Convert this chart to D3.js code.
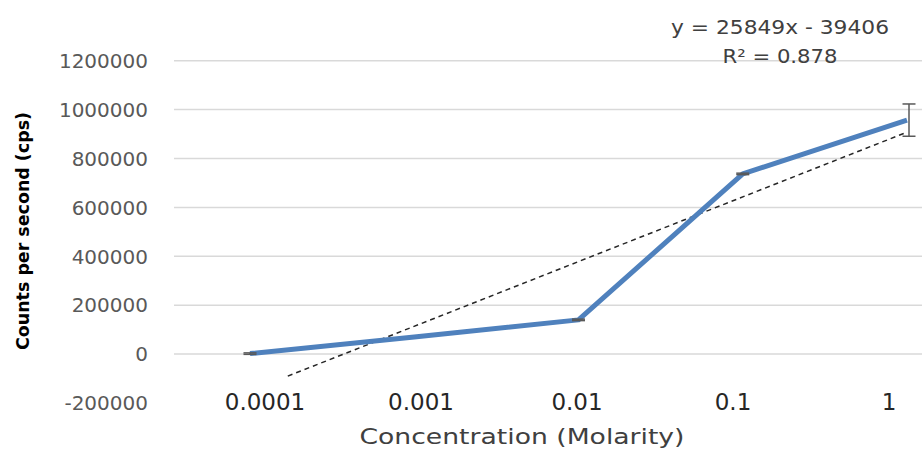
<!DOCTYPE html>
<html>
<head>
<meta charset="utf-8">
<script src="https://cdn.jsdelivr.net/npm/d3@7"></script>
<style>
  body { margin: 0; background: #fff; }
  svg { display: block; }
</style>
</head>
<body>
<svg id="chart"></svg>
<script>
// Data
const concentrations = ["0.0001", "0.001", "0.01", "0.1", "1"];
const counts = [2000, 70000, 140000, 737000, 957000];
const errors = [3000, 0, 3000, 3000, 66000];
const yTicks = [-200000, 0, 200000, 400000, 600000, 800000, 1000000, 1200000];
// dashed linear trend line, start and end (category index, value)
const trendIndex = [0.23, 3.99];
const trendValue = [-90000, 905000];
const equationLines = ["y = 25849x - 39406", "R² = 0.878"];

const width = 922, height = 449;
const svg = d3.select("#chart").attr("width", width).attr("height", height);

// Scales
const y = d3.scaleLinear().domain([-200000, 1200000]).range([403, 60.7]);
const xPlot = d3.scaleLinear().domain([0, 4]).range([250, 907]);
const xLabel = d3.scalePoint().domain(concentrations).range([265, 889]);

// Grid lines (no line at the bottom tick)
svg.append("g")
  .selectAll("line")
  .data(yTicks.filter(d => d > -200000))
  .enter().append("line")
  .attr("x1", 174).attr("x2", width)
  .attr("y1", d => y(d)).attr("y2", d => y(d))
  .attr("stroke", "#d9d9d9")
  .attr("stroke-width", 1.5);

// Y tick labels
svg.append("g")
  .selectAll("text")
  .data(yTicks)
  .enter().append("text")
  .attr("x", 148)
  .attr("y", d => y(d))
  .attr("dy", "0.36em")
  .attr("text-anchor", "end")
  .attr("font-family", "DejaVu Sans")
  .attr("font-size", 20)
  .attr("fill", "#595959")
  .text(d => d);

// X tick labels
svg.append("g")
  .selectAll("text")
  .data(concentrations)
  .enter().append("text")
  .attr("x", d => xLabel(d))
  .attr("y", 410)
  .attr("text-anchor", "middle")
  .attr("font-family", "DejaVu Sans")
  .attr("font-size", 23)
  .attr("fill", "#262626")
  .text(d => d);

// Axis titles (stretched a bit, like the reference)
svg.append("text")
  .attr("x", 522)
  .attr("y", 444)
  .attr("text-anchor", "middle")
  .attr("font-family", "DejaVu Sans")
  .attr("font-size", 22)
  .attr("fill", "#404040")
  .attr("textLength", 325)
  .attr("lengthAdjust", "spacingAndGlyphs")
  .text("Concentration (Molarity)");

svg.append("text")
  .attr("transform", "translate(29,231) rotate(-90)")
  .attr("text-anchor", "middle")
  .attr("font-family", "DejaVu Sans Condensed")
  .attr("font-weight", "bold")
  .attr("font-size", 18)
  .attr("fill", "#000")
  .attr("textLength", 238)
  .attr("lengthAdjust", "spacingAndGlyphs")
  .text("Counts per second (cps)");

// Trend line
svg.append("line")
  .attr("x1", xPlot(trendIndex[0])).attr("y1", y(trendValue[0]))
  .attr("x2", xPlot(trendIndex[1])).attr("y2", y(trendValue[1]))
  .attr("stroke", "#262626")
  .attr("stroke-width", 1.5)
  .attr("stroke-dasharray", "5,4");

// Data line
const line = d3.line()
  .x((d, i) => xPlot(i))
  .y(d => y(d));

svg.append("path")
  .datum(counts)
  .attr("d", line)
  .attr("fill", "none")
  .attr("stroke", "#4f81bd")
  .attr("stroke-width", 5)
  .attr("stroke-linejoin", "round");

// Error bars
const eb = svg.append("g")
  .attr("stroke", "#595959")
  .attr("stroke-width", 1.5);

counts.forEach((v, i) => {
  if (!errors[i]) return;
  const cx = xPlot(i) + (i === counts.length - 1 ? 2 : 0);
  eb.append("line")
    .attr("x1", cx).attr("x2", cx)
    .attr("y1", y(v + errors[i])).attr("y2", y(v - errors[i]));
  [v + errors[i], v - errors[i]].forEach(e => {
    eb.append("line")
      .attr("x1", cx - 6.5).attr("x2", cx + 6.5)
      .attr("y1", y(e)).attr("y2", y(e));
  });
});

// Trend equation
const eqWidths = [218, 115];
svg.append("g")
  .selectAll("text")
  .data(equationLines)
  .enter().append("text")
  .attr("x", 780)
  .attr("y", (d, i) => 34 + i * 29)
  .attr("text-anchor", "middle")
  .attr("font-family", "DejaVu Sans")
  .attr("font-size", 19)
  .attr("fill", "#404040")
  .attr("textLength", (d, i) => eqWidths[i])
  .attr("lengthAdjust", "spacingAndGlyphs")
  .text(d => d);
</script>
</body>
</html>
